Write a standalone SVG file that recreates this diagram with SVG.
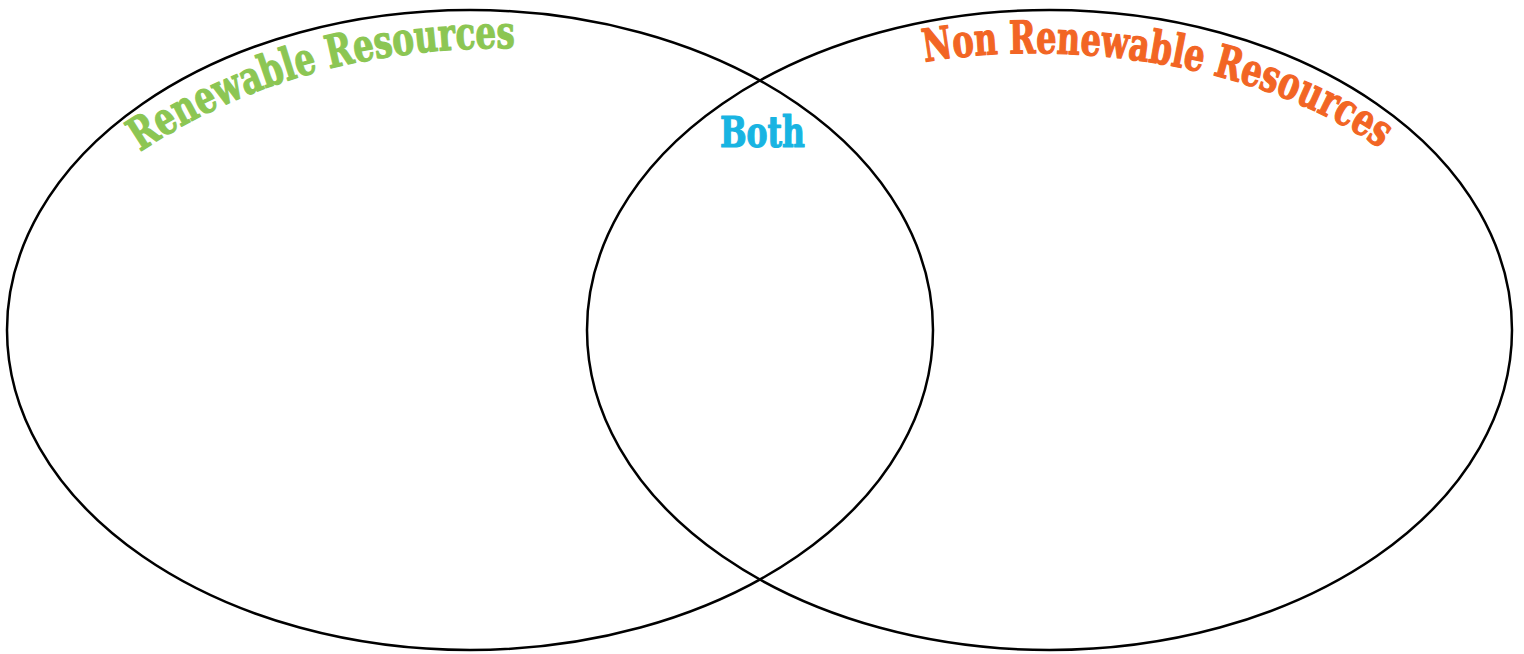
<svg xmlns="http://www.w3.org/2000/svg" width="1524" height="654" viewBox="0 0 1524 654">
<style>
.ring{fill:none;stroke:#000;stroke-width:2.5}
.lbl{font-family:"DejaVu Serif Condensed","DejaVu Serif","Liberation Serif",serif;font-weight:bold;font-stretch:condensed;stroke-width:1.2;stroke-linejoin:round}
</style>
<defs>
<path id="arcL" d="M 140,152 Q 300,45 520,48"/>
<path id="arcR" d="M 925,62 C 1050,40 1250,55 1385,152"/>
</defs>
<rect width="1524" height="654" fill="#fff"/>
<g id="renewable">
<ellipse class="ring" cx="470" cy="330" rx="463" ry="320"/>
<text class="lbl" font-size="45" fill="#8cc653" stroke="#8cc653"><textPath href="#arcL" textLength="395" lengthAdjust="spacingAndGlyphs">Renewable Resources</textPath></text>
</g>
<g id="nonrenewable">
<ellipse class="ring" cx="1049.5" cy="330" rx="462.5" ry="320"/>
<text class="lbl" font-size="45" fill="#f26524" stroke="#f26524"><textPath href="#arcR" textLength="474" lengthAdjust="spacingAndGlyphs">Non Renewable Resources</textPath></text>
</g>
<g id="both">
<text class="lbl" x="720" y="147" font-size="43" fill="#18b4e2" stroke="#18b4e2" textLength="85" lengthAdjust="spacingAndGlyphs">Both</text>
</g>
<g id="connectors"></g>
</svg>
